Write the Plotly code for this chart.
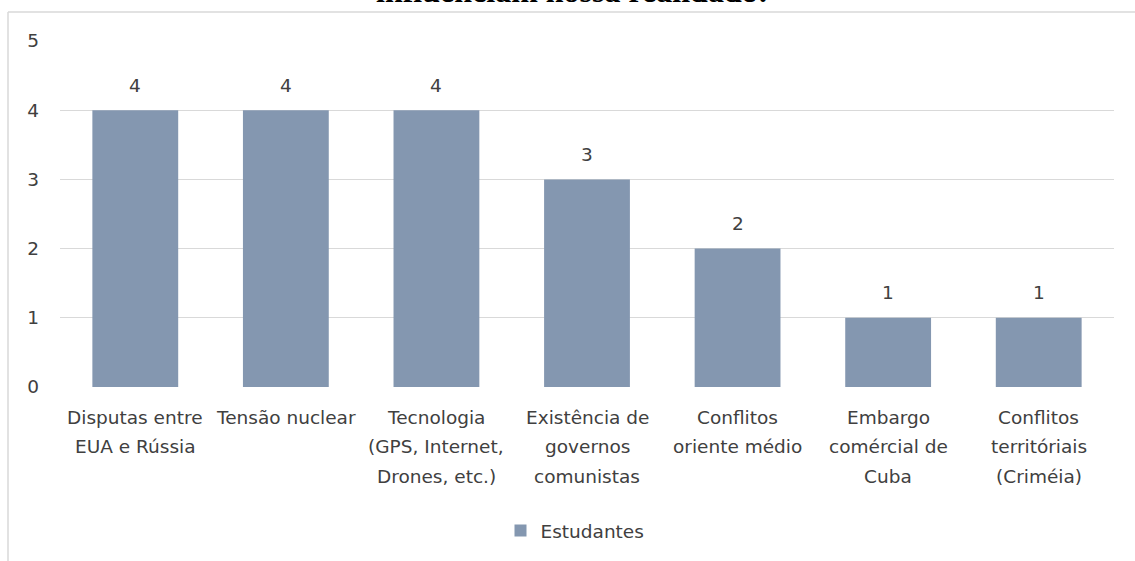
import plotly.graph_objects as go

categories = [
    "Disputas entre<br>EUA e Rússia",
    "Tensão nuclear",
    "Tecnologia<br>(GPS, Internet,<br>Drones, etc.)",
    "Existência de<br>governos<br>comunistas",
    "Conflitos<br>oriente médio",
    "Embargo<br>comércial de<br>Cuba",
    "Conflitos<br>territóriais<br>(Criméia)",
]
values = [4, 4, 4, 3, 2, 1, 1]
series_name = "Estudantes"
title_text = "influenciam nossa realidade?"

W, H = 1135, 561
ML, MR, MT, MB = 60, 21, 41, 173
PW, PH = W - ML - MR, H - MT - MB

def px_x(p):
    return (p - ML) / PW

def px_y(p):
    return (H - MB - p) / PH

FONT = "DejaVu Sans"
FS = 18.5
TXT = "#404040"
BAR = "#8497B0"
GRID = "#D9D9D9"

fig = go.Figure()
fig.add_trace(go.Bar(
    x=list(range(len(categories))), y=values, name=series_name,
    marker=dict(color=BAR, line=dict(width=0)),
    showlegend=True,
))

annotations = []
# data labels
for i, v in enumerate(values):
    annotations.append(dict(x=i, y=v, xref="x", yref="y", text=str(v),
                            showarrow=False, yanchor="middle", yshift=25,
                            font=dict(family=FONT, size=FS, color=TXT)))
# category labels, one line each with Excel-like spacing
for i, lab in enumerate(categories):
    for j, line in enumerate(lab.split("<br>")):
        annotations.append(dict(x=i, y=0, xref="x", yref="y", text=line,
                                showarrow=False, yanchor="middle",
                                yshift=-(30 + 29.5 * j),
                                font=dict(family=FONT, size=FS, color=TXT)))
# title (cut off at top)
annotations.append(dict(x=px_x(574), y=px_y(-9), xref="paper", yref="paper",
                        text="<b>" + title_text + "</b>", showarrow=False,
                        xanchor="center", yanchor="middle",
                        font=dict(family="Liberation Serif", size=32, color="#000000")))

shapes = [
    dict(type="line", xref="paper", yref="paper", x0=px_x(8), x1=px_x(W + 5),
         y0=px_y(12), y1=px_y(12), line=dict(color=GRID, width=1.5)),
    dict(type="line", xref="paper", yref="paper", x0=px_x(8), x1=px_x(8),
         y0=px_y(12), y1=px_y(H + 5), line=dict(color=GRID, width=1.5)),
]

fig.update_layout(
    width=W, height=H,
    margin=dict(l=ML, r=MR, t=MT, b=MB),
    paper_bgcolor="white", plot_bgcolor="white",
    bargap=0.43,
    font=dict(family=FONT, size=FS, color=TXT),
    xaxis=dict(range=[-0.5, len(categories) - 0.5], showticklabels=False,
               showgrid=False, zeroline=False, showline=False, fixedrange=True),
    yaxis=dict(range=[0, 5], dtick=1, showgrid=True, gridcolor=GRID, gridwidth=1,
               zeroline=False, showline=False, ticks="", ticklabelstandoff=20,
               tickfont=dict(family=FONT, size=FS, color=TXT)),
    legend=dict(orientation="h", x=px_x(575), xanchor="center",
                y=px_y(531), yanchor="middle",
                font=dict(family=FONT, size=FS, color=TXT),
                itemwidth=30),
    annotations=annotations,
    shapes=shapes,
)

fig.write_html("out.html", config={"displayModeBar": False},
               post_script="document.body.style.margin='0';document.body.style.overflow='hidden';")
